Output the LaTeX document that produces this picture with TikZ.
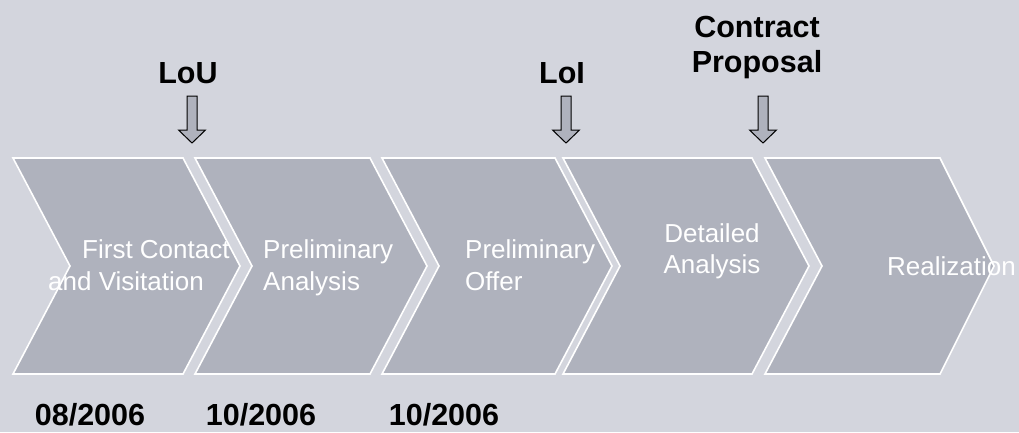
\documentclass[tikz,border=0pt]{standalone}
\usepackage{fontspec}
\setmainfont{Liberation Sans}
\definecolor{backgr}{RGB}{211,213,221}
\definecolor{chevron}{RGB}{175,178,189}
\begin{document}
\begin{tikzpicture}[x=1pt,y=-1pt]
\tikzstyle{phase}=[draw=white,line width=1.6pt,fill=chevron,line join=miter]
\tikzstyle{steptext}=[text=white,font=\fontsize{26}{32}\selectfont,inner sep=0pt]
\tikzstyle{milestone}=[font=\bfseries\fontsize{30.5}{35}\selectfont,inner sep=0pt]
\tikzstyle{marker}=[draw=black,line width=1pt,fill=chevron,line join=miter]
\fill[backgr] (0,0) rectangle (1019,432);
\useasboundingbox (0,0) rectangle (1019,432);

% phases
\draw[phase] (13,158) -- ++(170,0) -- ++(57,108) -- ++(-57,108) -- ++(-170,0) -- ++(57,-108) -- cycle;
\draw[phase] (195,158) -- ++(175,0) -- ++(57,108) -- ++(-57,108) -- ++(-175,0) -- ++(57,-108) -- cycle;
\draw[phase] (382,158) -- ++(173,0) -- ++(57,108) -- ++(-57,108) -- ++(-173,0) -- ++(57,-108) -- cycle;
\draw[phase] (563,158) -- ++(189,0) -- ++(57,108) -- ++(-57,108) -- ++(-189,0) -- ++(57,-108) -- cycle;
\draw[phase] (765,158) -- ++(175,0) -- ++(54,108) -- ++(-54,108) -- ++(-175,0) -- ++(57,-108) -- cycle;

\node[steptext,anchor=base west](contact) at (82,258) {First Contact};
\node[steptext,anchor=base west](visit) at (48,290) {and Visitation};
\node[steptext,anchor=base west](prelim) at (263,258) {Preliminary};
\node[steptext,anchor=base west](analysis) at (263,290) {Analysis};
\node[steptext,anchor=base west](prelim2) at (465,258) {Preliminary};
\node[steptext,anchor=base west](offer) at (465,290) {Offer};
\node[steptext,anchor=base](detailed) at (712,242) {Detailed};
\node[steptext,anchor=base](analysis2) at (712,273) {Analysis};
\node[steptext,anchor=base west](real) at (887,275) {Realization};

% milestones
\node[milestone,anchor=base](lou) at (188,83) {LoU};
\node[milestone,anchor=base](loi) at (562,83) {LoI};
\node[milestone,anchor=base](contract) at (757,37) {Contract};
\node[milestone,anchor=base](proposal) at (757,72) {Proposal};

\draw[marker] (187,96) -- ++(10,0) -- ++(0,34) -- ++(8.5,0) -- ++(-13.5,13) -- ++(-13.5,-13) -- ++(8.5,0) -- cycle;
\draw[marker] (561,96) -- ++(10,0) -- ++(0,34) -- ++(8.5,0) -- ++(-13.5,13) -- ++(-13.5,-13) -- ++(8.5,0) -- cycle;
\draw[marker] (758,96) -- ++(10,0) -- ++(0,34) -- ++(8.5,0) -- ++(-13.5,13) -- ++(-13.5,-13) -- ++(8.5,0) -- cycle;

% dates
\node[milestone,anchor=base](d1) at (90,425) {08/2006};
\node[milestone,anchor=base](d2) at (261,425) {10/2006};
\node[milestone,anchor=base](d3) at (444,425) {10/2006};
\end{tikzpicture}
\end{document}
